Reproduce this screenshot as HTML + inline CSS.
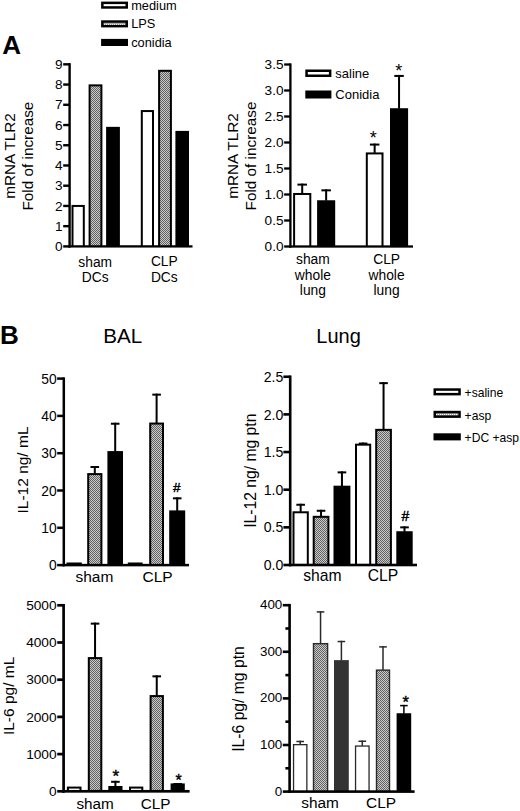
<!DOCTYPE html>
<html><head><meta charset="utf-8"><title>Figure</title>
<style>
html,body{margin:0;padding:0;background:#fff;}
body{width:520px;height:811px;overflow:hidden;}
svg{display:block;font-family:"Liberation Sans", sans-serif;}
</style></head>
<body>
<svg width="520" height="811" viewBox="0 0 520 811">
<defs>
<pattern id="chk" width="2" height="2" patternUnits="userSpaceOnUse">
<rect width="2" height="2" fill="#cacaca"/>
<rect width="1" height="1" fill="#626262"/>
<rect x="1" y="1" width="1" height="1" fill="#626262"/>
</pattern>
<pattern id="chk2" width="2" height="2" patternUnits="userSpaceOnUse">
<rect width="2" height="2" fill="#aaa"/>
<rect width="1" height="1" fill="#fff"/>
</pattern>
</defs>
<rect width="520" height="811" fill="#fff"/>
<text x="2.30" y="53.60" font-size="26" text-anchor="start" font-weight="bold" fill="#000">A</text>
<rect x="101.10" y="1.60" width="26.90" height="7.10" fill="#000"/>
<rect x="103.60" y="4.10" width="21.90" height="2.10" fill="#fff"/>
<text x="131.20" y="10.10" font-size="12.8" text-anchor="start" fill="#000">medium</text>
<rect x="101.10" y="20.30" width="26.90" height="7.10" fill="#000"/>
<rect x="103.60" y="22.80" width="21.90" height="2.10" fill="url(#chk2)"/>
<text x="131.20" y="28.10" font-size="12.8" text-anchor="start" fill="#000">LPS</text>
<rect x="101.10" y="38.90" width="26.90" height="7.10" fill="#000"/>
<text x="131.20" y="47.00" font-size="12.8" text-anchor="start" fill="#000">conidia</text>
<rect x="71.50" y="204.94" width="13.30" height="41.46" fill="#000"/>
<rect x="73.50" y="206.94" width="9.30" height="39.46" fill="#fff"/>
<rect x="88.60" y="84.37" width="13.80" height="162.03" fill="#000"/>
<rect x="90.60" y="86.37" width="9.80" height="160.03" fill="url(#chk)"/>
<rect x="106.10" y="126.85" width="13.80" height="119.55" fill="#000"/>
<rect x="140.80" y="110.06" width="13.20" height="136.34" fill="#000"/>
<rect x="142.80" y="112.06" width="9.20" height="134.34" fill="#fff"/>
<rect x="158.10" y="69.80" width="13.80" height="176.60" fill="#000"/>
<rect x="160.10" y="71.80" width="9.80" height="174.60" fill="url(#chk)"/>
<rect x="175.40" y="130.90" width="13.60" height="115.50" fill="#000"/>
<text x="95.20" y="267.40" font-size="13.8" text-anchor="middle" fill="#000">sham</text>
<text x="95.20" y="282.30" font-size="13.8" text-anchor="middle" fill="#000">DCs</text>
<text x="164.30" y="266.20" font-size="13.8" text-anchor="middle" fill="#000">CLP</text>
<text x="164.30" y="281.90" font-size="13.8" text-anchor="middle" fill="#000">DCs</text>
<text x="14.90" y="156.00" font-size="15.3" text-anchor="middle" transform="rotate(-90 14.90 156.00)" fill="#000">mRNA TLR2</text>
<text x="33.00" y="156.10" font-size="15.3" text-anchor="middle" transform="rotate(-90 33.00 156.10)" fill="#000">Fold of increase</text>
<rect x="301.20" y="183.62" width="2.00" height="9.86" fill="#000"/>
<rect x="297.45" y="183.62" width="9.50" height="2.00" fill="#000"/>
<rect x="293.10" y="192.98" width="18.20" height="53.52" fill="#000"/>
<rect x="295.10" y="194.98" width="14.20" height="51.52" fill="#fff"/>
<rect x="325.15" y="189.34" width="2.00" height="11.42" fill="#000"/>
<rect x="321.40" y="189.34" width="9.50" height="2.00" fill="#000"/>
<rect x="317.10" y="200.26" width="18.10" height="46.24" fill="#000"/>
<rect x="373.65" y="143.58" width="2.00" height="9.34" fill="#000"/>
<rect x="369.90" y="143.58" width="9.50" height="2.00" fill="#000"/>
<rect x="365.80" y="152.42" width="17.70" height="94.08" fill="#000"/>
<rect x="367.80" y="154.42" width="13.70" height="92.08" fill="#fff"/>
<rect x="398.05" y="74.94" width="2.00" height="33.78" fill="#000"/>
<rect x="394.30" y="74.94" width="9.50" height="2.00" fill="#000"/>
<rect x="390.00" y="108.22" width="18.10" height="138.28" fill="#000"/>
<text x="373.20" y="144.00" font-size="18" text-anchor="middle" fill="#000">*</text>
<text x="398.80" y="77.00" font-size="18" text-anchor="middle" fill="#000">*</text>
<rect x="305.30" y="69.50" width="26.10" height="7.50" fill="#000"/>
<rect x="307.80" y="72.00" width="21.10" height="2.50" fill="#fff"/>
<rect x="305.30" y="90.50" width="26.10" height="8.00" fill="#000"/>
<text x="335.30" y="78.30" font-size="13.0" text-anchor="start" fill="#000">saline</text>
<text x="335.30" y="99.30" font-size="13.0" text-anchor="start" fill="#000">Conidia</text>
<text x="312.90" y="264.00" font-size="13.8" text-anchor="middle" fill="#000">sham</text>
<text x="312.90" y="279.50" font-size="13.8" text-anchor="middle" fill="#000">whole</text>
<text x="312.90" y="294.90" font-size="13.8" text-anchor="middle" fill="#000">lung</text>
<text x="386.60" y="264.00" font-size="13.8" text-anchor="middle" fill="#000">CLP</text>
<text x="386.60" y="279.50" font-size="13.8" text-anchor="middle" fill="#000">whole</text>
<text x="386.60" y="294.90" font-size="13.8" text-anchor="middle" fill="#000">lung</text>
<text x="237.80" y="156.00" font-size="15.3" text-anchor="middle" transform="rotate(-90 237.80 156.00)" fill="#000">mRNA TLR2</text>
<text x="255.70" y="156.00" font-size="15.3" text-anchor="middle" transform="rotate(-90 255.70 156.00)" fill="#000">Fold of increase</text>
<text x="0.00" y="343.80" font-size="26" text-anchor="start" font-weight="bold" fill="#000">B</text>
<text x="122.80" y="343.20" font-size="20.6" text-anchor="middle" fill="#000">BAL</text>
<text x="338.60" y="343.40" font-size="20.0" text-anchor="middle" fill="#000">Lung</text>
<rect x="66.50" y="562.50" width="15.30" height="2.60" fill="#000"/>
<rect x="93.80" y="466.00" width="2.00" height="7.59" fill="#000"/>
<rect x="90.50" y="466.00" width="8.60" height="2.00" fill="#000"/>
<rect x="87.20" y="473.09" width="15.20" height="92.01" fill="#000"/>
<rect x="89.20" y="475.09" width="11.20" height="90.01" fill="url(#chk)"/>
<rect x="114.20" y="422.73" width="2.00" height="28.85" fill="#000"/>
<rect x="110.90" y="422.73" width="8.60" height="2.00" fill="#000"/>
<rect x="107.40" y="451.08" width="15.60" height="114.02" fill="#000"/>
<rect x="127.80" y="562.50" width="14.80" height="2.60" fill="#000"/>
<rect x="155.60" y="393.64" width="2.00" height="29.41" fill="#000"/>
<rect x="152.30" y="393.64" width="8.60" height="2.00" fill="#000"/>
<rect x="149.20" y="422.55" width="14.80" height="142.55" fill="#000"/>
<rect x="151.20" y="424.55" width="10.80" height="140.55" fill="url(#chk)"/>
<rect x="176.20" y="497.33" width="2.00" height="13.56" fill="#000"/>
<rect x="172.90" y="497.33" width="8.60" height="2.00" fill="#000"/>
<rect x="169.20" y="510.39" width="16.00" height="54.71" fill="#000"/>
<text x="176.70" y="492.30" font-size="13.5" text-anchor="middle" fill="#000" stroke="#000" stroke-width="0.45">#</text>
<text x="94.40" y="581.80" font-size="15.5" text-anchor="middle" fill="#000">sham</text>
<text x="157.60" y="581.80" font-size="15.5" text-anchor="middle" fill="#000">CLP</text>
<text x="28.40" y="470.00" font-size="15.5" text-anchor="middle" transform="rotate(-90 28.40 470.00)" fill="#000">IL-12 ng/ mL</text>
<rect x="299.65" y="503.76" width="2.00" height="8.03" fill="#000"/>
<rect x="296.35" y="503.76" width="8.60" height="2.00" fill="#000"/>
<rect x="292.50" y="511.29" width="16.30" height="53.71" fill="#000"/>
<rect x="294.50" y="513.29" width="12.30" height="51.71" fill="#fff"/>
<rect x="320.05" y="509.78" width="2.00" height="6.52" fill="#000"/>
<rect x="316.75" y="509.78" width="8.60" height="2.00" fill="#000"/>
<rect x="312.70" y="515.81" width="16.70" height="49.19" fill="#000"/>
<rect x="314.70" y="517.81" width="12.70" height="47.19" fill="url(#chk)"/>
<rect x="340.95" y="471.38" width="2.00" height="14.81" fill="#000"/>
<rect x="337.65" y="471.38" width="8.60" height="2.00" fill="#000"/>
<rect x="333.50" y="485.69" width="16.90" height="79.31" fill="#000"/>
<rect x="362.10" y="442.54" width="2.00" height="1.63" fill="#000"/>
<rect x="358.80" y="442.54" width="8.60" height="2.00" fill="#000"/>
<rect x="355.00" y="443.67" width="16.20" height="121.33" fill="#000"/>
<rect x="357.00" y="445.67" width="12.20" height="119.33" fill="#fff"/>
<rect x="382.55" y="382.15" width="2.00" height="47.19" fill="#000"/>
<rect x="379.25" y="382.15" width="8.60" height="2.00" fill="#000"/>
<rect x="375.20" y="428.84" width="16.70" height="136.16" fill="#000"/>
<rect x="377.20" y="430.84" width="12.70" height="134.16" fill="url(#chk)"/>
<rect x="403.50" y="526.35" width="2.00" height="5.39" fill="#000"/>
<rect x="400.20" y="526.35" width="8.60" height="2.00" fill="#000"/>
<rect x="396.30" y="531.24" width="16.40" height="33.76" fill="#000"/>
<text x="405.30" y="521.30" font-size="13.9" text-anchor="middle" fill="#000" stroke="#000" stroke-width="0.45">#</text>
<text x="322.40" y="581.00" font-size="15.7" text-anchor="middle" fill="#000">sham</text>
<text x="383.00" y="581.00" font-size="15.7" text-anchor="middle" fill="#000">CLP</text>
<text x="255.90" y="470.70" font-size="15.7" text-anchor="middle" transform="rotate(-90 255.90 470.70)" fill="#000">IL-12 ng/ mg ptn</text>
<rect x="433.50" y="388.30" width="27.30" height="7.10" fill="#000"/>
<rect x="436.00" y="390.80" width="22.30" height="2.10" fill="#fff"/>
<text x="464.60" y="397.00" font-size="12.1" text-anchor="start" fill="#000">+saline</text>
<rect x="433.50" y="410.80" width="27.30" height="7.10" fill="#000"/>
<rect x="436.00" y="413.30" width="22.30" height="2.10" fill="url(#chk2)"/>
<text x="464.60" y="419.50" font-size="12.1" text-anchor="start" fill="#000">+asp</text>
<rect x="433.50" y="433.30" width="27.30" height="7.10" fill="#000"/>
<text x="464.60" y="442.00" font-size="12.1" text-anchor="start" fill="#000">+DC +asp</text>
<rect x="66.90" y="786.58" width="14.60" height="4.72" fill="#000"/>
<rect x="68.90" y="788.58" width="10.60" height="2.72" fill="#fff"/>
<rect x="94.05" y="622.64" width="2.00" height="34.95" fill="#000"/>
<rect x="90.75" y="622.64" width="8.60" height="2.00" fill="#000"/>
<rect x="87.80" y="657.09" width="14.50" height="134.21" fill="#000"/>
<rect x="89.80" y="659.09" width="10.50" height="132.21" fill="url(#chk)"/>
<rect x="114.40" y="780.81" width="2.00" height="5.67" fill="#000"/>
<rect x="111.10" y="780.81" width="8.60" height="2.00" fill="#000"/>
<rect x="108.30" y="785.98" width="14.20" height="5.32" fill="#000"/>
<rect x="129.00" y="786.58" width="14.30" height="4.72" fill="#000"/>
<rect x="131.00" y="788.58" width="10.30" height="2.72" fill="#fff"/>
<rect x="155.75" y="675.35" width="2.00" height="20.22" fill="#000"/>
<rect x="152.45" y="675.35" width="8.60" height="2.00" fill="#000"/>
<rect x="149.60" y="695.07" width="14.30" height="96.23" fill="#000"/>
<rect x="151.60" y="697.07" width="10.30" height="94.23" fill="url(#chk)"/>
<rect x="176.70" y="783.05" width="2.00" height="0.87" fill="#000"/>
<rect x="173.40" y="783.05" width="8.60" height="2.00" fill="#000"/>
<rect x="170.60" y="783.42" width="14.20" height="7.88" fill="#000"/>
<text x="115.80" y="782.00" font-size="17" text-anchor="middle" fill="#000" stroke="#000" stroke-width="0.4">*</text>
<text x="178.70" y="785.60" font-size="16" text-anchor="middle" fill="#000" stroke="#000" stroke-width="0.4">*</text>
<text x="95.10" y="808.60" font-size="15.3" text-anchor="middle" fill="#000">sham</text>
<text x="155.60" y="808.60" font-size="15.3" text-anchor="middle" fill="#000">CLP</text>
<text x="14.10" y="695.90" font-size="15.5" text-anchor="middle" transform="rotate(-90 14.10 695.90)" fill="#000">IL-6 pg/ mL</text>
<rect x="299.45" y="740.74" width="1.50" height="3.76" fill="#2a2a2a"/>
<rect x="296.40" y="740.74" width="7.60" height="1.50" fill="#2a2a2a"/>
<rect x="292.90" y="744.00" width="14.60" height="47.60" fill="#2a2a2a"/>
<rect x="294.20" y="745.30" width="12.00" height="46.30" fill="#fff"/>
<rect x="319.80" y="611.19" width="1.50" height="32.28" fill="#2a2a2a"/>
<rect x="316.75" y="611.19" width="7.60" height="1.50" fill="#2a2a2a"/>
<rect x="312.80" y="642.97" width="15.50" height="148.63" fill="#2a2a2a"/>
<rect x="314.20" y="644.37" width="12.70" height="147.23" fill="url(#chk)"/>
<rect x="340.65" y="640.78" width="1.50" height="19.84" fill="#2a2a2a"/>
<rect x="337.60" y="640.78" width="7.60" height="1.50" fill="#2a2a2a"/>
<rect x="334.00" y="660.12" width="14.80" height="131.48" fill="#333"/>
<rect x="361.55" y="740.50" width="1.50" height="5.39" fill="#2a2a2a"/>
<rect x="358.50" y="740.50" width="7.60" height="1.50" fill="#2a2a2a"/>
<rect x="354.90" y="745.40" width="14.80" height="46.20" fill="#2a2a2a"/>
<rect x="356.20" y="746.70" width="12.20" height="44.90" fill="#fff"/>
<rect x="382.25" y="646.14" width="1.50" height="23.80" fill="#2a2a2a"/>
<rect x="379.20" y="646.14" width="7.60" height="1.50" fill="#2a2a2a"/>
<rect x="375.80" y="669.44" width="14.40" height="122.16" fill="#2a2a2a"/>
<rect x="377.20" y="670.84" width="11.60" height="120.76" fill="url(#chk)"/>
<rect x="403.15" y="704.86" width="1.50" height="8.89" fill="#000"/>
<rect x="400.10" y="704.86" width="7.60" height="1.50" fill="#000"/>
<rect x="396.60" y="713.24" width="14.60" height="78.36" fill="#000"/>
<text x="405.60" y="707.60" font-size="16.5" text-anchor="middle" fill="#000" stroke="#000" stroke-width="0.4">*</text>
<text x="320.10" y="807.70" font-size="15.4" text-anchor="middle" fill="#000">sham</text>
<text x="381.10" y="807.70" font-size="15.4" text-anchor="middle" fill="#000">CLP</text>
<text x="243.70" y="699.00" font-size="15.7" text-anchor="middle" transform="rotate(-90 243.70 699.00)" fill="#000">IL-6 pg/ mg ptn</text>
<rect x="68.40" y="63.13" width="2.40" height="184.42" fill="#000"/>
<rect x="63.20" y="245.20" width="6.40" height="2.40" fill="#000"/>
<text x="62.60" y="251.00" font-size="13.6" text-anchor="end" fill="#000">0</text>
<rect x="63.20" y="224.97" width="6.40" height="2.40" fill="#000"/>
<text x="62.60" y="230.77" font-size="13.6" text-anchor="end" fill="#000">1</text>
<rect x="63.20" y="204.74" width="6.40" height="2.40" fill="#000"/>
<text x="62.60" y="210.54" font-size="13.6" text-anchor="end" fill="#000">2</text>
<rect x="63.20" y="184.51" width="6.40" height="2.40" fill="#000"/>
<text x="62.60" y="190.31" font-size="13.6" text-anchor="end" fill="#000">3</text>
<rect x="63.20" y="164.28" width="6.40" height="2.40" fill="#000"/>
<text x="62.60" y="170.08" font-size="13.6" text-anchor="end" fill="#000">4</text>
<rect x="63.20" y="144.05" width="6.40" height="2.40" fill="#000"/>
<text x="62.60" y="149.85" font-size="13.6" text-anchor="end" fill="#000">5</text>
<rect x="63.20" y="123.82" width="6.40" height="2.40" fill="#000"/>
<text x="62.60" y="129.62" font-size="13.6" text-anchor="end" fill="#000">6</text>
<rect x="63.20" y="103.59" width="6.40" height="2.40" fill="#000"/>
<text x="62.60" y="109.39" font-size="13.6" text-anchor="end" fill="#000">7</text>
<rect x="63.20" y="83.36" width="6.40" height="2.40" fill="#000"/>
<text x="62.60" y="89.16" font-size="13.6" text-anchor="end" fill="#000">8</text>
<rect x="63.20" y="63.13" width="6.40" height="2.40" fill="#000"/>
<text x="62.60" y="68.93" font-size="13.6" text-anchor="end" fill="#000">9</text>
<rect x="68.40" y="245.25" width="124.10" height="2.30" fill="#000"/>
<rect x="289.25" y="63.35" width="2.30" height="184.30" fill="#000"/>
<rect x="284.15" y="245.35" width="6.25" height="2.30" fill="#000"/>
<text x="283.50" y="251.30" font-size="13.6" text-anchor="end" fill="#000">0.0</text>
<rect x="284.15" y="219.35" width="6.25" height="2.30" fill="#000"/>
<text x="283.50" y="225.30" font-size="13.6" text-anchor="end" fill="#000">0.5</text>
<rect x="284.15" y="193.35" width="6.25" height="2.30" fill="#000"/>
<text x="283.50" y="199.30" font-size="13.6" text-anchor="end" fill="#000">1.0</text>
<rect x="284.15" y="167.35" width="6.25" height="2.30" fill="#000"/>
<text x="283.50" y="173.30" font-size="13.6" text-anchor="end" fill="#000">1.5</text>
<rect x="284.15" y="141.35" width="6.25" height="2.30" fill="#000"/>
<text x="283.50" y="147.30" font-size="13.6" text-anchor="end" fill="#000">2.0</text>
<rect x="284.15" y="115.35" width="6.25" height="2.30" fill="#000"/>
<text x="283.50" y="121.30" font-size="13.6" text-anchor="end" fill="#000">2.5</text>
<rect x="284.15" y="89.35" width="6.25" height="2.30" fill="#000"/>
<text x="283.50" y="95.30" font-size="13.6" text-anchor="end" fill="#000">3.0</text>
<rect x="284.15" y="63.35" width="6.25" height="2.30" fill="#000"/>
<text x="283.50" y="69.30" font-size="13.6" text-anchor="end" fill="#000">3.5</text>
<rect x="289.25" y="245.35" width="123.75" height="2.30" fill="#000"/>
<rect x="62.55" y="377.35" width="2.50" height="189.00" fill="#000"/>
<rect x="57.15" y="563.85" width="6.65" height="2.50" fill="#000"/>
<text x="56.70" y="570.30" font-size="13.8" text-anchor="end" fill="#000">0</text>
<rect x="57.15" y="526.55" width="6.65" height="2.50" fill="#000"/>
<text x="56.70" y="533.00" font-size="13.8" text-anchor="end" fill="#000">10</text>
<rect x="57.15" y="489.25" width="6.65" height="2.50" fill="#000"/>
<text x="56.70" y="495.70" font-size="13.8" text-anchor="end" fill="#000">20</text>
<rect x="57.15" y="451.95" width="6.65" height="2.50" fill="#000"/>
<text x="56.70" y="458.40" font-size="13.8" text-anchor="end" fill="#000">30</text>
<rect x="57.15" y="414.65" width="6.65" height="2.50" fill="#000"/>
<text x="56.70" y="421.10" font-size="13.8" text-anchor="end" fill="#000">40</text>
<rect x="57.15" y="377.35" width="6.65" height="2.50" fill="#000"/>
<text x="56.70" y="383.80" font-size="13.8" text-anchor="end" fill="#000">50</text>
<rect x="62.55" y="563.85" width="126.45" height="2.50" fill="#000"/>
<rect x="288.90" y="375.45" width="2.60" height="190.85" fill="#000"/>
<rect x="283.40" y="563.70" width="6.80" height="2.60" fill="#000"/>
<text x="283.30" y="570.10" font-size="14.1" text-anchor="end" fill="#000">0.0</text>
<rect x="283.40" y="526.05" width="6.80" height="2.60" fill="#000"/>
<text x="283.30" y="532.45" font-size="14.1" text-anchor="end" fill="#000">0.5</text>
<rect x="283.40" y="488.40" width="6.80" height="2.60" fill="#000"/>
<text x="283.30" y="494.80" font-size="14.1" text-anchor="end" fill="#000">1.0</text>
<rect x="283.40" y="450.75" width="6.80" height="2.60" fill="#000"/>
<text x="283.30" y="457.15" font-size="14.1" text-anchor="end" fill="#000">1.5</text>
<rect x="283.40" y="413.10" width="6.80" height="2.60" fill="#000"/>
<text x="283.30" y="419.50" font-size="14.1" text-anchor="end" fill="#000">2.0</text>
<rect x="283.40" y="375.45" width="6.80" height="2.60" fill="#000"/>
<text x="283.30" y="381.85" font-size="14.1" text-anchor="end" fill="#000">2.5</text>
<rect x="288.90" y="563.70" width="128.10" height="2.60" fill="#000"/>
<rect x="62.25" y="603.95" width="2.70" height="188.70" fill="#000"/>
<rect x="57.25" y="789.95" width="6.35" height="2.70" fill="#000"/>
<text x="56.60" y="796.00" font-size="13.7" text-anchor="end" fill="#000">0</text>
<rect x="57.25" y="752.75" width="6.35" height="2.70" fill="#000"/>
<text x="56.60" y="758.80" font-size="13.7" text-anchor="end" fill="#000">1000</text>
<rect x="57.25" y="715.55" width="6.35" height="2.70" fill="#000"/>
<text x="56.60" y="721.60" font-size="13.7" text-anchor="end" fill="#000">2000</text>
<rect x="57.25" y="678.35" width="6.35" height="2.70" fill="#000"/>
<text x="56.60" y="684.40" font-size="13.7" text-anchor="end" fill="#000">3000</text>
<rect x="57.25" y="641.15" width="6.35" height="2.70" fill="#000"/>
<text x="56.60" y="647.20" font-size="13.7" text-anchor="end" fill="#000">4000</text>
<rect x="57.25" y="603.95" width="6.35" height="2.70" fill="#000"/>
<text x="56.60" y="610.00" font-size="13.7" text-anchor="end" fill="#000">5000</text>
<rect x="62.25" y="789.95" width="127.35" height="2.70" fill="#000"/>
<rect x="288.30" y="603.90" width="2.60" height="189.00" fill="#000"/>
<rect x="282.80" y="790.30" width="6.80" height="2.60" fill="#000"/>
<text x="282.30" y="795.60" font-size="13.4" text-anchor="end" fill="#000">0</text>
<rect x="282.80" y="743.70" width="6.80" height="2.60" fill="#000"/>
<text x="282.30" y="749.00" font-size="13.4" text-anchor="end" fill="#000">100</text>
<rect x="282.80" y="697.10" width="6.80" height="2.60" fill="#000"/>
<text x="282.30" y="702.40" font-size="13.4" text-anchor="end" fill="#000">200</text>
<rect x="282.80" y="650.50" width="6.80" height="2.60" fill="#000"/>
<text x="282.30" y="655.80" font-size="13.4" text-anchor="end" fill="#000">300</text>
<rect x="282.80" y="603.90" width="6.80" height="2.60" fill="#000"/>
<text x="282.30" y="609.20" font-size="13.4" text-anchor="end" fill="#000">400</text>
<rect x="285.40" y="767.00" width="4.20" height="2.60" fill="#000"/>
<rect x="285.40" y="720.40" width="4.20" height="2.60" fill="#000"/>
<rect x="285.40" y="673.80" width="4.20" height="2.60" fill="#000"/>
<rect x="285.40" y="627.20" width="4.20" height="2.60" fill="#000"/>
<rect x="288.30" y="790.30" width="126.30" height="2.60" fill="#000"/>
</svg>
</body></html>
